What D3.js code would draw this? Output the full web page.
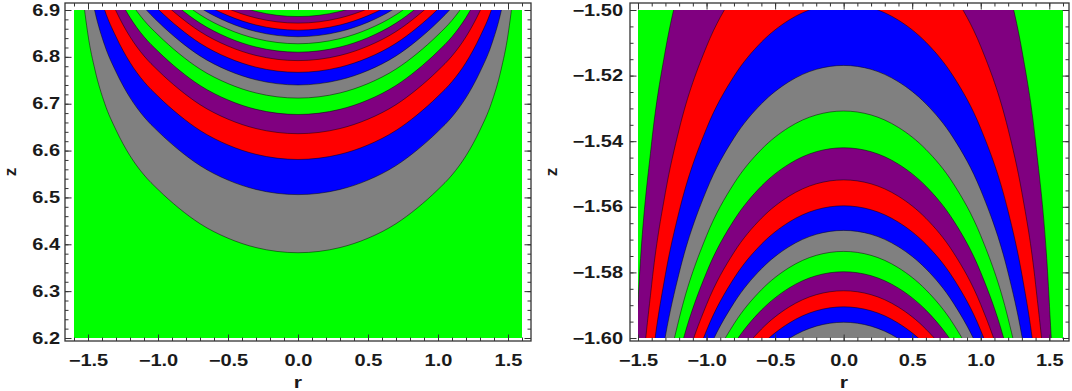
<!DOCTYPE html>
<html lang="en">
<head>
<meta charset="utf-8">
<title>Contour bands in r-z</title>
<script src="https://d3js.org/d3.v7.min.js"></script>
<style>
  body { margin: 0; background: #fff; }
  svg { display: block; background: #fff; }
  .tick text { font-family: "Liberation Sans", Arial, sans-serif; font-size: 16px; font-weight: bold; fill: #1a1a1a; }
  .lab { font-family: "Liberation Sans", Arial, sans-serif; font-size: 17px; font-weight: bold; fill: #1a1a1a; }
</style>
</head>
<body>
<svg width="1072" height="391"></svg>
<script>
// band colours, cycling outward -> inward
const bandColors = ["#808080", "#0000ff", "#ff0000", "#800080", "#00ff00"];
const baseColor = "#00ff00";

// left plot: z of each contour line at r = 0 (bottom to top)
const leftVertexZ = [6.382, 6.506, 6.581, 6.636, 6.677, 6.712, 6.740, 6.767,
                     6.792, 6.810, 6.828, 6.843, 6.857, 6.872, 6.886];
// shape of a left contour line: [r, rise above its vertex]
const leftProfile = [[0, 0], [0.3, 0.011], [0.5, 0.031], [0.7, 0.062], [0.85, 0.095],
                     [1.0, 0.135], [1.1, 0.166], [1.2, 0.207], [1.3, 0.262], [1.38, 0.318],
                     [1.45, 0.39], [1.5, 0.465], [1.54, 0.56], [1.57, 0.66], [1.6, 0.85]];

// right plot: z of each arch at r = 0 (innermost first; last three peak above the frame)
const rightVertexZ = [-1.5952, -1.5905, -1.5856, -1.5798, -1.5736, -1.5672, -1.5597,
                      -1.5518, -1.5420, -1.5308, -1.5169, -1.4981, -1.4731, -1.4297];
// shape of a right arch: [r, drop below its vertex]
const rightProfile = [[0, 0], [0.2, -0.0012], [0.4, -0.005], [0.6, -0.0117], [0.8, -0.0221],
                      [1.0, -0.038], [1.2, -0.0633], [1.3, -0.0825], [1.4, -0.1105],
                      [1.5, -0.1594], [1.55, -0.2075], [1.58, -0.266]];

// tick labels
const leftRTicks = [-1.5, -1.0, -0.5, 0.0, 0.5, 1.0, 1.5];
const leftZTicks = [6.2, 6.3, 6.4, 6.5, 6.6, 6.7, 6.8, 6.9];
const rightRTicks = [-1.5, -1.0, -0.5, 0.0, 0.5, 1.0, 1.5];
const rightZTicks = [-1.60, -1.58, -1.56, -1.54, -1.52, -1.50];

const panels = [
  {
    rDomain: [-1.6, 1.6], zDomain: [6.2, 6.9], xRange: [74, 522], frame: [65, 531],
    vertexZ: leftVertexZ, profile: leftProfile, opensUp: true,
    rMajor: leftRTicks, rMinor: d3.range(-16, 17).map(i => i / 10),
    zMajor: leftZTicks, zMinor: d3.range(0, 36).map(i => 6.2 + i * 0.02),
    zFormat: ".1f", labelPad: 5, zLabelX: 16, rLabelX: 298
  },
  {
    rDomain: [-1.5, 1.6], zDomain: [-1.6, -1.5], xRange: [638, 1063], frame: [630, 1069],
    vertexZ: rightVertexZ, profile: rightProfile, opensUp: false,
    rMajor: rightRTicks, rMinor: d3.range(-15, 17).map(i => i / 10),
    zMajor: rightZTicks, zMinor: d3.range(0, 21).map(i => -1.6 + i * 0.005),
    zFormat: ".2f", labelPad: 7, zLabelX: 557, rLabelX: 844
  }
];

const plotTop = 10, plotBottom = 338, frameTop = 3, frameBottom = 341;
const stretch = 1.25;
const svg = d3.select("svg");

function mirror(profile) {
  const neg = profile.slice(1).map(p => [-p[0], p[1]]).reverse();
  return neg.concat(profile);
}

panels.forEach((p, i) => {
  const x = d3.scaleLinear().domain(p.rDomain).range(p.xRange);
  const y = d3.scaleLinear().domain(p.zDomain).range([plotBottom, plotTop]);
  const g = svg.append("g");

  const clipId = "clip" + i;
  svg.append("clipPath").attr("id", clipId)
    .append("rect")
    .attr("x", x(p.rDomain[0])).attr("y", y(p.zDomain[1]))
    .attr("width", x(p.rDomain[1]) - x(p.rDomain[0]))
    .attr("height", y(p.zDomain[0]) - y(p.zDomain[1]));

  const plot = g.append("g").attr("clip-path", `url(#${clipId})`);
  plot.append("rect")
    .attr("x", x(p.rDomain[0])).attr("y", y(p.zDomain[1]))
    .attr("width", x(p.rDomain[1]) - x(p.rDomain[0]))
    .attr("height", y(p.zDomain[0]) - y(p.zDomain[1]))
    .attr("fill", baseColor);

  const shape = mirror(p.profile);
  const span = p.zDomain[1] - p.zDomain[0];
  const edgeZ = p.opensUp ? p.zDomain[1] + 2 * span : p.zDomain[0] - 2 * span;

  const area = d3.area()
    .x(d => x(d[0])).y0(y(edgeZ)).y1(d => y(d[1]))
    .curve(d3.curveMonotoneX);
  const line = d3.line()
    .x(d => x(d[0])).y(d => y(d[1]))
    .curve(d3.curveMonotoneX);

  const curves = p.vertexZ.map((z0, k) => ({ k, pts: shape.map(s => [s[0], z0 + s[1]]) }));
  const ordered = p.opensUp ? curves : curves.slice().reverse();

  plot.selectAll("path.band").data(ordered).join("path")
    .attr("class", "band")
    .attr("d", d => area(d.pts))
    .attr("fill", d => bandColors[d.k % bandColors.length]);

  plot.selectAll("path.iso").data(curves).join("path")
    .attr("class", "iso")
    .attr("d", d => line(d.pts))
    .attr("fill", "none")
    .attr("stroke", "#000")
    .attr("stroke-opacity", 0.6)
    .attr("stroke-width", 0.8);

  // frame
  g.append("rect")
    .attr("x", p.frame[0]).attr("y", frameTop)
    .attr("width", p.frame[1] - p.frame[0]).attr("height", frameBottom - frameTop)
    .attr("fill", "none").attr("stroke", "#333").attr("stroke-width", 1.3);

  const rFmt = d3.format(".1f");
  const zFmt = d3.format(p.zFormat);
  const clean = sel => sel.call(s => s.select(".domain").remove()).style("color", "#333");

  // bottom / top
  g.append("g").attr("transform", `translate(0,${frameBottom})`)
    .call(d3.axisBottom(x).tickValues(p.rMinor).tickSize(-3.5).tickFormat("")).call(clean);
  g.append("g").attr("transform", `translate(0,${frameBottom})`)
    .call(d3.axisBottom(x).tickValues(p.rMajor).tickSize(-6.5).tickPadding(14).tickFormat(rFmt))
    .call(clean)
    .selectAll(".tick text").attr("transform", `scale(${stretch},1)`);
  g.append("g").attr("transform", `translate(0,${frameTop})`)
    .call(d3.axisTop(x).tickValues(p.rMinor).tickSize(-3.5).tickFormat("")).call(clean);
  g.append("g").attr("transform", `translate(0,${frameTop})`)
    .call(d3.axisTop(x).tickValues(p.rMajor).tickSize(-6.5).tickFormat("")).call(clean);

  // left / right
  g.append("g").attr("transform", `translate(${p.frame[0]},0)`)
    .call(d3.axisLeft(y).tickValues(p.zMinor).tickSize(-3.5).tickFormat("")).call(clean);
  g.append("g").attr("transform", `translate(${p.frame[0]},0)`)
    .call(d3.axisLeft(y).tickValues(p.zMajor).tickSize(-6.5).tickPadding(p.labelPad).tickFormat(zFmt))
    .call(clean)
    .selectAll(".tick text")
    .attr("x", -p.labelPad / stretch)
    .attr("transform", `scale(${stretch},1)`);
  g.append("g").attr("transform", `translate(${p.frame[1]},0)`)
    .call(d3.axisRight(y).tickValues(p.zMinor).tickSize(-3.5).tickFormat("")).call(clean);
  g.append("g").attr("transform", `translate(${p.frame[1]},0)`)
    .call(d3.axisRight(y).tickValues(p.zMajor).tickSize(-6.5).tickFormat("")).call(clean);

  // axis names
  g.append("text").attr("class", "lab")
    .attr("text-anchor", "middle")
    .attr("transform", `translate(${p.rLabelX},388) scale(${stretch},1)`)
    .text("r");
  g.append("text").attr("class", "lab")
    .attr("text-anchor", "middle")
    .attr("transform", `translate(${p.zLabelX},172) rotate(-90)`)
    .text("z");
});
</script>
</body>
</html>
